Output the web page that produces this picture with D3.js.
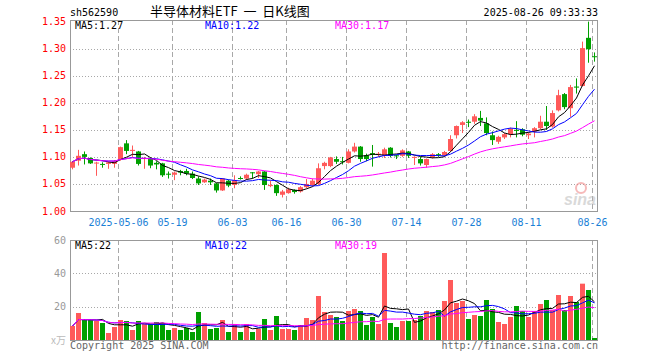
<!DOCTYPE html>
<html><head><meta charset="utf-8">
<script src="https://cdn.jsdelivr.net/npm/d3@7"></script>
<style>body{margin:0;background:#fff}svg{display:block}</style>
</head><body><svg id="c" width="660" height="360"></svg>
<script>
const dates = ["2025-04-21","2025-04-22","2025-04-23","2025-04-24","2025-04-25","2025-04-28","2025-04-29","2025-04-30",
"2025-05-06","2025-05-07","2025-05-08","2025-05-09","2025-05-12","2025-05-13","2025-05-14","2025-05-15","2025-05-16","2025-05-19","2025-05-20","2025-05-21","2025-05-22","2025-05-23","2025-05-26","2025-05-27","2025-05-28","2025-05-29","2025-05-30",
"2025-06-03","2025-06-04","2025-06-05","2025-06-06","2025-06-09","2025-06-10","2025-06-11","2025-06-12","2025-06-13","2025-06-16","2025-06-17","2025-06-18","2025-06-19","2025-06-20","2025-06-23","2025-06-24","2025-06-25","2025-06-26","2025-06-27","2025-06-30",
"2025-07-01","2025-07-02","2025-07-03","2025-07-04","2025-07-07","2025-07-08","2025-07-09","2025-07-10","2025-07-11","2025-07-14","2025-07-15","2025-07-16","2025-07-17","2025-07-18","2025-07-21","2025-07-22","2025-07-23","2025-07-24","2025-07-25","2025-07-28","2025-07-29","2025-07-30","2025-07-31",
"2025-08-01","2025-08-04","2025-08-05","2025-08-06","2025-08-07","2025-08-08","2025-08-11","2025-08-12","2025-08-13","2025-08-14","2025-08-15","2025-08-18","2025-08-19","2025-08-20","2025-08-21","2025-08-22","2025-08-25","2025-08-26"];

const opens = [1.080,1.093,1.105,1.098,1.089,1.087,1.087,1.087,1.095,1.125,
1.111,1.110,1.096,1.097,1.089,1.088,1.069,1.067,1.074,1.074,
1.069,1.060,1.053,1.056,1.051,1.038,1.056,1.048,1.061,1.060,
1.0715,1.068,1.073,1.046,1.048,1.030,1.033,1.039,1.036,1.044,
1.048,1.050,1.083,1.083,1.096,1.092,1.089,1.110,1.119,1.103,
1.107,1.104,1.102,1.117,1.103,1.102,1.110,1.099,1.096,1.085,
1.099,1.105,1.103,1.111,1.140,1.159,1.165,1.165,1.172,1.162,
1.140,1.128,1.136,1.142,1.150,1.151,1.140,1.147,1.153,1.165,
1.156,1.186,1.216,1.190,1.230,1.231,1.320,1.286];

const highs = [1.092,1.113,1.110,1.099,1.091,1.090,1.091,1.094,1.119,1.131,
1.121,1.111,1.100,1.099,1.092,1.089,1.073,1.073,1.076,1.078,
1.073,1.064,1.060,1.060,1.052,1.061,1.058,1.066,1.064,1.069,
1.072,1.074,1.074,1.056,1.049,1.039,1.043,1.040,1.046,1.059,
1.060,1.088,1.091,1.100,1.101,1.100,1.114,1.126,1.120,1.106,
1.122,1.109,1.117,1.118,1.104,1.114,1.111,1.101,1.100,1.097,
1.107,1.107,1.111,1.140,1.158,1.166,1.169,1.179,1.185,1.173,
1.147,1.139,1.144,1.154,1.166,1.153,1.145,1.155,1.176,1.194,
1.186,1.224,1.218,1.233,1.245,1.313,1.352,1.293];

const lows = [1.077,1.084,1.086,1.087,1.065,1.080,1.078,1.080,1.093,1.105,
1.100,1.084,1.078,1.079,1.077,1.063,1.060,1.057,1.066,1.066,
1.059,1.048,1.052,1.048,1.034,1.037,1.044,1.042,1.058,1.058,
1.060,1.061,1.039,1.044,1.028,1.025,1.032,1.032,1.034,1.042,
1.045,1.048,1.077,1.081,1.087,1.086,1.088,1.108,1.091,1.092,
1.082,1.100,1.098,1.099,1.096,1.100,1.098,1.085,1.084,1.080,
1.097,1.100,1.100,1.109,1.134,1.144,1.155,1.161,1.157,1.140,
1.122,1.124,1.133,1.136,1.136,1.138,1.133,1.136,1.151,1.150,
1.154,1.184,1.188,1.174,1.217,1.230,1.274,1.276];

const closes = [1.091,1.102,1.100,1.088,1.0895,1.086,1.090,1.092,1.118,1.111,
1.113,1.087,1.098,1.084,1.086,1.066,1.067,1.071,1.071,1.069,
1.061,1.051,1.058,1.053,1.038,1.060,1.047,1.057,1.060,1.067,
1.0697,1.073,1.048,1.048,1.033,1.036,1.040,1.035,1.044,1.050,
1.056,1.079,1.089,1.099,1.091,1.091,1.110,1.119,1.096,1.096,
1.104,1.106,1.114,1.102,1.101,1.112,1.102,1.100,1.088,1.096,
1.105,1.104,1.109,1.133,1.157,1.164,1.163,1.175,1.167,1.144,
1.131,1.137,1.142,1.152,1.148,1.141,1.143,1.153,1.165,1.157,
1.181,1.214,1.192,1.229,1.228,1.301,1.299,1.285];

const volumes = [8.4,16.2,12.0,12.0,11.4,10.2,4.2,7.8,12.0,11.4,
6.0,11.4,9.6,9.6,10.8,10.2,6.0,7.2,6.0,7.2,
4.8,16.8,10.2,6.6,7.2,12.0,4.8,9.6,4.8,9.6,
4.8,6.6,12.6,6.0,14.4,6.6,6.6,6.0,9.0,13.2,
12.0,26.4,16.8,15.0,13.8,11.4,17.4,18.6,17.4,9.0,
13.8,9.6,52.2,10.2,7.8,11.4,11.4,12.0,14.4,17.4,
16.8,18.0,23.4,36.0,22.2,23.4,12.6,15.0,14.4,24.0,
18.6,10.8,9.6,13.8,20.4,17.4,13.8,17.4,21.6,24.0,
18.0,27.0,18.0,26.4,22.8,33.8,30.0,1.2];

const tickDates = ["2025-05-06","2025-05-19","2025-06-03","2025-06-16","2025-06-30","2025-07-14","2025-07-28","2025-08-11","2025-08-26"];
const tickLabels = ["2025-05-06","05-19","06-03","06-16","06-30","07-14","07-28","08-11","08-26"];
const priceTicks = [1.00,1.05,1.10,1.15,1.20,1.25,1.30,1.35];
const volTicks = [20,40,60];
const maPeriods = [5,10,30];
const maColors = ["#000000","#0000ff","#ff00ff"];
const maLabels = ["MA5:1.27","MA10:1.22","MA30:1.17"];
const volMaLabels = ["MA5:22","MA10:22","MA30:19"];
const code = "sh562590";
const title = "半导体材料ETF  一  日K线图";
const stamp = "2025-08-26 09:33:33";

const UP = "#ff5a5a", DOWN = "#00a000", GRID = "#a8a8a8", FRAME = "#999999";
const MONO = "'DejaVu Sans Mono', 'Liberation Mono', monospace";

const svg = d3.select("#c");
const L = 70, R = 598;
const x = d3.scaleBand().domain(dates).range([L, R]).paddingInner(1/6).paddingOuter(1/12).align(0);
const bw = x.bandwidth();
const y = d3.scaleLinear().domain([1.0, 1.35]).range([211, 21.6]).clamp(true);
const yv = d3.scaleLinear().domain([0, 60]).range([340, 240]);

const data = dates.map((d, i) => ({d, o: opens[i], h: highs[i], l: lows[i], c: closes[i], v: volumes[i]}));
const ma = (arr, n) => arr.map((_, i) => d3.mean(arr.slice(Math.max(0, i - n + 1), i + 1)));
const cr = v => Math.round(v) + 0.5;

// header
svg.append("text").attr("x", 70).attr("y", 16).attr("font-family", MONO).attr("font-size", 10).attr("fill", "#000").text(code);
svg.append("text").attr("x", 150).attr("y", 16).attr("font-family", "'Noto Sans CJK SC', sans-serif").attr("font-size", 13)
  .attr("fill", "#000").style("white-space", "pre").text(title);
svg.append("text").attr("x", 598).attr("y", 16).attr("text-anchor", "end").attr("font-family", MONO).attr("font-size", 10).attr("fill", "#000").text(stamp);

function panel(top, bottom, yScale, ticks, gridVals, labelColor, fmt) {
  const g = svg.append("g");
  g.selectAll("line.h").data(gridVals).join("line")
    .attr("x1", L).attr("x2", R).attr("y1", d => cr(yScale(d))).attr("y2", d => cr(yScale(d)))
    .attr("stroke", GRID).attr("stroke-dasharray", "1,2");
  g.selectAll("line.v").data(tickDates).join("line")
    .attr("x1", d => x(d) + 0.5).attr("x2", d => x(d) + 0.5).attr("y1", top).attr("y2", bottom)
    .attr("stroke", GRID).attr("stroke-dasharray", "5,3");
  g.append("rect").attr("x", L + 0.5).attr("y", top + 0.5).attr("width", R - L - 1).attr("height", bottom - top)
    .attr("fill", "none").attr("stroke", FRAME);
  g.selectAll("text.yl").data(ticks).join("text")
    .attr("x", 66).attr("y", d => yScale(d)).attr("dy", "0.35em").attr("text-anchor", "end")
    .attr("font-family", MONO).attr("font-size", 10).attr("fill", labelColor).text(fmt);
  return g;
}

panel(20, 211, y, priceTicks, [1.05,1.10,1.15,1.20,1.25,1.30], "#ff0000", d => d.toFixed(2));
panel(240, 340, yv, volTicks, [20,40], "#999999", d => d);

// watermark
const wm = svg.append("g").attr("opacity", 0.55);
wm.append("circle").attr("cx", 581).attr("cy", 188).attr("r", 5).attr("fill", "none").attr("stroke", "#f08080").attr("stroke-width", 2);
wm.append("text").attr("x", 596).attr("y", 205).attr("text-anchor", "end").attr("font-family", "'Liberation Sans', Arial, sans-serif")
  .attr("font-style", "italic").attr("font-weight", "bold").attr("font-size", 16).attr("fill", "#bbbbbb").text("sina");

// date labels
svg.selectAll("text.xl").data(tickDates).join("text")
  .attr("x", d => x(d) + 0.5).attr("y", 226).attr("text-anchor", "middle")
  .attr("font-family", MONO).attr("font-size", 10).attr("fill", "#1a80d6")
  .text((d, i) => tickLabels[i]);

// candles
const cg = svg.append("g");
cg.selectAll("line.w").data(data).join("line")
  .attr("x1", d => x(d.d) + bw / 2).attr("x2", d => x(d.d) + bw / 2)
  .attr("y1", d => y(d.h)).attr("y2", d => y(d.l))
  .attr("stroke", d => d.c >= d.o ? UP : DOWN).attr("stroke-width", 1);
cg.selectAll("rect").data(data).join("rect")
  .attr("x", d => x(d.d)).attr("width", bw)
  .attr("y", d => y(Math.max(d.o, d.c)))
  .attr("height", d => Math.max(1, Math.abs(y(d.o) - y(d.c))))
  .attr("fill", d => d.c >= d.o ? UP : DOWN);

// volume bars
svg.append("g").selectAll("rect").data(data).join("rect")
  .attr("x", d => x(d.d)).attr("width", bw)
  .attr("y", d => yv(d.v)).attr("height", d => yv(0) - yv(d.v))
  .attr("fill", d => d.c >= d.o ? UP : DOWN);

// MA lines
maPeriods.forEach((n, k) => {
  const m = ma(closes, n);
  svg.append("path").datum(m)
    .attr("d", d3.line().x((v, i) => x(dates[i]) + bw / 2).y(v => y(v)))
    .attr("fill", "none").attr("stroke", maColors[k]).attr("stroke-width", 1);
  const mv = ma(volumes, n);
  svg.append("path").datum(mv)
    .attr("d", d3.line().x((v, i) => x(dates[i]) + bw / 2).y(v => yv(v)))
    .attr("fill", "none").attr("stroke", maColors[k]).attr("stroke-width", 1);
});

// MA labels
const labX = [75, 205, 335];
maLabels.forEach((t, k) => {
  svg.append("text").attr("x", labX[k]).attr("y", 29).attr("font-family", MONO).attr("font-size", 10)
    .attr("fill", maColors[k]).text(t);
});
volMaLabels.forEach((t, k) => {
  svg.append("text").attr("x", labX[k]).attr("y", 249).attr("font-family", MONO).attr("font-size", 10)
    .attr("fill", maColors[k]).text(t);
});

// unit + footer
svg.append("text").attr("x", 66).attr("y", 344).attr("text-anchor", "end").attr("font-family", "'Noto Sans CJK SC', sans-serif")
  .attr("font-size", 10).attr("fill", "#bbbbbb").text("x万");
svg.append("text").attr("x", 70).attr("y", 349).attr("font-family", MONO).attr("font-size", 10).attr("fill", "#666").text("Copyright 2025 SINA.COM");
svg.append("text").attr("x", 598).attr("y", 349).attr("text-anchor", "end").attr("font-family", MONO).attr("font-size", 10).attr("fill", "#666").text("http://finance.sina.com.cn");
</script></body></html>
